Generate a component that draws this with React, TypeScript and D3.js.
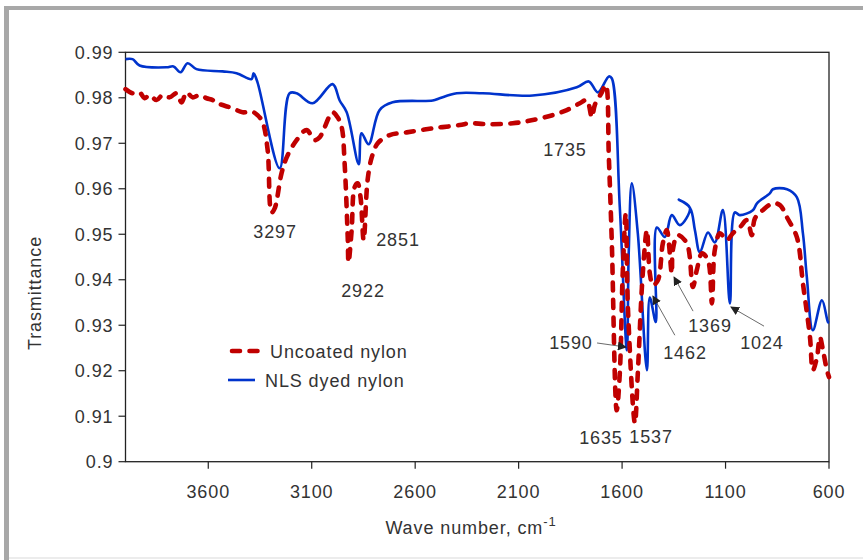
import React from 'react';
import * as d3 from 'd3';

// Axis ticks
const xTicks = [3600, 3100, 2600, 2100, 1600, 1100, 600];
const yTicks = [0.9, 0.91, 0.92, 0.93, 0.94, 0.95, 0.96, 0.97, 0.98, 0.99];

// FTIR spectrum of the uncoated nylon: [wave number, transmittance]
const uncoatedNylon: [number, number][] = [
  [4000, 0.9819], [3966, 0.981], [3932, 0.9812], [3908, 0.9799], [3884, 0.9806],
  [3850, 0.9795], [3821, 0.9806], [3787, 0.9801], [3753, 0.981], [3729, 0.979],
  [3705, 0.9812], [3676, 0.9801], [3642, 0.9806], [3608, 0.9799], [3579, 0.9795],
  [3560, 0.9788], [3531, 0.9784], [3483, 0.9777], [3434, 0.9768], [3391, 0.977],
  [3362, 0.9762], [3337, 0.9746], [3313, 0.9685], [3294, 0.9548], [3279, 0.9557],
  [3246, 0.9634], [3221, 0.9669], [3173, 0.9707], [3125, 0.9729], [3086, 0.9707],
  [3062, 0.9713], [2999, 0.9768], [2975, 0.9757], [2955, 0.9735], [2941, 0.9656],
  [2926, 0.9493], [2922, 0.9438], [2907, 0.9509], [2893, 0.9603], [2878, 0.9612],
  [2864, 0.9581], [2849, 0.9487], [2830, 0.9619], [2810, 0.9669], [2781, 0.97],
  [2723, 0.9718], [2641, 0.9724], [2515, 0.9733], [2385, 0.974], [2336, 0.9744],
  [2254, 0.9742], [2128, 0.9744], [2032, 0.9751], [1935, 0.9762], [1867, 0.9773],
  [1804, 0.9788], [1771, 0.9795], [1746, 0.9757], [1732, 0.9784], [1698, 0.9812],
  [1679, 0.9828], [1664, 0.9669], [1650, 0.9487], [1626, 0.9113], [1611, 0.9195],
  [1597, 0.9414], [1582, 0.9546], [1572, 0.934], [1538, 0.9085], [1524, 0.9195],
  [1500, 0.9414], [1480, 0.9509], [1466, 0.9414], [1451, 0.9388], [1427, 0.9399],
  [1403, 0.948], [1384, 0.9509], [1360, 0.9414], [1355, 0.9465], [1331, 0.9498],
  [1287, 0.948], [1258, 0.9384], [1239, 0.9421], [1214, 0.9458], [1185, 0.9443],
  [1166, 0.9348], [1152, 0.9465], [1127, 0.9502], [1094, 0.9487], [1065, 0.9502],
  [1031, 0.9515], [997, 0.9531], [973, 0.9498], [958, 0.9535], [920, 0.9553],
  [871, 0.9568], [837, 0.9564], [803, 0.9537], [755, 0.9493], [726, 0.9392],
  [692, 0.9274], [678, 0.9201], [658, 0.923], [644, 0.9274], [629, 0.9245],
  [610, 0.9201], [600, 0.9186],
];

// FTIR spectrum of the NLS dyed nylon: [wave number, transmittance]
const nlsDyedNylon: [number, number][] = [
  [4000, 0.9885], [3966, 0.9885], [3932, 0.9871], [3802, 0.9867], [3768, 0.9869],
  [3734, 0.9856], [3700, 0.9876], [3657, 0.9863], [3531, 0.9858], [3463, 0.9854],
  [3391, 0.9841], [3381, 0.9854], [3362, 0.9834], [3255, 0.9645], [3207, 0.981],
  [3173, 0.981], [3096, 0.9788], [2999, 0.983], [2965, 0.9794], [2931, 0.9768],
  [2873, 0.9654], [2859, 0.9722], [2825, 0.9698], [2772, 0.9773], [2709, 0.979],
  [2515, 0.9794], [2482, 0.9799], [2399, 0.981], [2274, 0.981], [2032, 0.9805],
  [1819, 0.9823], [1761, 0.9836], [1717, 0.9812], [1664, 0.9847], [1650, 0.9843],
  [1611, 0.9559], [1577, 0.9245], [1568, 0.9458], [1553, 0.9612], [1524, 0.9502],
  [1480, 0.9201], [1466, 0.9361], [1437, 0.9307], [1432, 0.9515], [1393, 0.9494],
  [1360, 0.9542], [1321, 0.952], [1272, 0.9558], [1326, 0.9576], [1272, 0.9558],
  [1248, 0.9509], [1224, 0.946], [1185, 0.9504], [1152, 0.9482], [1113, 0.9553],
  [1079, 0.9348], [1055, 0.9548], [1031, 0.9542], [968, 0.9553], [948, 0.9568],
  [886, 0.959], [871, 0.9599], [803, 0.9599], [755, 0.9581], [726, 0.9502],
  [707, 0.9405], [678, 0.9289], [634, 0.9355], [605, 0.9307], [600, 0.9305],
];

// Band labels: text centre in data coordinates
const bandLabels = [
  { text: '3297', wn: 3277, t: 0.9505 },
  { text: '2922', wn: 2852, t: 0.9375 },
  { text: '2851', wn: 2683, t: 0.9487 },
  { text: '1735', wn: 1876, t: 0.9685 },
  { text: '1590', wn: 1847, t: 0.9261 },
  { text: '1635', wn: 1702, t: 0.9052 },
  { text: '1537', wn: 1460, t: 0.9054 },
  { text: '1462', wn: 1296, t: 0.9239 },
  { text: '1369', wn: 1175, t: 0.93 },
  { text: '1024', wn: 924, t: 0.9261 },
];

// Leader arrows from a label to its band
const leaders = [
  { from: [1721, 0.9261], to: [1581, 0.9252] },
  { from: [1345, 0.9278], to: [1451, 0.9364] },
  { from: [1257, 0.9331], to: [1349, 0.9406] },
  { from: [914, 0.9298], to: [1074, 0.934] },
];

const W = 863;
const H = 560;
const M = { left: 125.5, right: 829, top: 52.3, bottom: 461.7 };
const FONT = '"Liberation Sans", Arial, sans-serif';
const TEXT = '#333';
const RED = '#c00000';
const BLUE = '#0033cc';

export default function App() {
  const x = d3.scaleLinear().domain([4000, 600]).range([M.left, M.right]);
  const y = d3.scaleLinear().domain([0.9, 0.99]).range([M.bottom, M.top]);
  const line = d3
    .line<[number, number]>()
    .x((d) => x(d[0]))
    .y((d) => y(d[1]))
    .curve(d3.curveCatmullRom.alpha(0.5));

  const txt = { fontFamily: FONT, fontSize: 18, fill: TEXT, letterSpacing: 0.9 } as const;

  return (
    <svg
      width={W}
      height={H}
      style={{ position: 'absolute', left: 0, top: 0, background: '#fff' }}
    >
      <defs>
        <marker
          id="arrowHead"
          viewBox="0 0 10 10"
          refX="9"
          refY="5"
          markerWidth="9"
          markerHeight="9"
          markerUnits="userSpaceOnUse"
          orient="auto"
        >
          <path d="M0,0 L10,5 L0,10 z" fill="#222" />
        </marker>
      </defs>

      {/* outer frame */}
      <rect x={0} y={0} width={W} height={H} fill="#fff" />
      <line x1={6.5} y1={6} x2={6.5} y2={H} stroke="#a8a8a8" strokeWidth={5} />
      <line x1={4} y1={8} x2={W} y2={8} stroke="#a8a8a8" strokeWidth={4} />
      <line x1={9} y1={558} x2={W} y2={558} stroke="#ececec" strokeWidth={2} />

      {/* plot box */}
      <rect
        x={M.left}
        y={M.top}
        width={M.right - M.left}
        height={M.bottom - M.top}
        fill="none"
        stroke="#222"
        strokeWidth={1.3}
      />

      {/* y axis ticks and labels */}
      {yTicks.map((t) => (
        <g key={t}>
          <line x1={M.left - 7} x2={M.left} y1={y(t)} y2={y(t)} stroke="#222" strokeWidth={1.2} />
          <text x={M.left - 12} y={y(t)} dy="0.35em" textAnchor="end" {...txt}>
            {d3.format('')(+t.toFixed(2))}
          </text>
        </g>
      ))}

      {/* x axis ticks and labels */}
      {xTicks.map((t) => (
        <g key={t}>
          <line x1={x(t)} x2={x(t)} y1={M.bottom} y2={M.bottom + 7} stroke="#222" strokeWidth={1.2} />
          <text x={x(t)} y={498} textAnchor="middle" {...txt}>
            {t}
          </text>
        </g>
      ))}

      {/* axis titles */}
      <text
        transform={`translate(41,${(M.top + M.bottom) / 2 + 36}) rotate(-90)`}
        textAnchor="middle"
        {...txt}
      >
        Trasmittance
      </text>
      <text x={471} y={534} textAnchor="middle" {...txt}>
        Wave number, cm
        <tspan dy={-8} fontSize={13}>-1</tspan>
      </text>

      {/* spectra */}
      <path d={line(nlsDyedNylon) || ''} fill="none" stroke={BLUE} strokeWidth={2.6} strokeLinejoin="round" />
      <path
        d={line(uncoatedNylon) || ''}
        fill="none"
        stroke={RED}
        strokeWidth={4.6}
        strokeDasharray="8 9.5"
        strokeLinecap="round"
        strokeLinejoin="round"
      />

      {/* band labels */}
      {bandLabels.map((b) => (
        <text key={b.text} x={x(b.wn)} y={y(b.t)} dy="0.35em" textAnchor="middle" {...txt}>
          {b.text}
        </text>
      ))}

      {/* leader arrows */}
      {leaders.map((l, i) => (
        <line
          key={i}
          x1={x(l.from[0])}
          y1={y(l.from[1])}
          x2={x(l.to[0])}
          y2={y(l.to[1])}
          stroke="#444"
          strokeWidth={0.8}
          markerEnd="url(#arrowHead)"
        />
      ))}

      {/* legend */}
      <line x1={232} x2={262} y1={351} y2={351} stroke={RED} strokeWidth={4.6} strokeDasharray="8 9.5" strokeLinecap="round" />
      <text x={270} y={357.5} {...txt}>
        Uncoated nylon
      </text>
      <line x1={228} x2={255} y1={380} y2={380} stroke={BLUE} strokeWidth={2.6} />
      <text x={265} y={386.5} {...txt}>
        NLS dyed nylon
      </text>
    </svg>
  );
}
